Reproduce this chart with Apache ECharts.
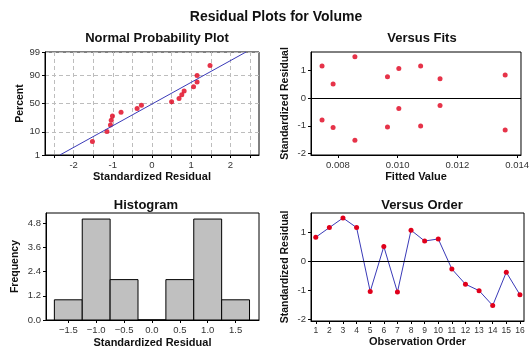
<!DOCTYPE html>
<html>
<head>
<meta charset="utf-8">
<script src="https://cdn.jsdelivr.net/npm/echarts@6/dist/echarts.min.js"></script>
<style>
  html, body { margin: 0; padding: 0; background: #fff; }
  #main { width: 532px; height: 350px; }
</style>
</head>
<body>
<div id="main"></div>
<script>
// standardized residuals by observation order
var obsOrder = [1, 2, 3, 4, 5, 6, 7, 8, 9, 10, 11, 12, 13, 14, 15, 16];
var residuals = [0.82, 1.15, 1.48, 1.15, -1.04, 0.50, -1.06, 1.06, 0.69, 0.76, -0.27, -0.79, -1.01, -1.52, -0.38, -1.15];
// fitted values for the same observations
var fitted = [0.01360, 0.00747, 0.00857, 0.01077, 0.00966, 0.00784, 0.00784, 0.01004, 0.01142, 0.00966, 0.01142, 0.00747, 0.01077, 0.00857, 0.01004, 0.01360];

// histogram bins
var binCenters = [-1.5, -1.0, -0.5, 0.0, 0.5, 1.0, 1.5];
var binCounts = [1, 5, 2, 0, 2, 5, 1];
var binWidth = 0.5;

// tick labels
var probTicks = [1, 10, 50, 90, 99];
var probXTicks = [-2, -1, 0, 1, 2];
var probXGrid = [-2.5, -2, -1.5, -1, -0.5, 0, 0.5, 1, 1.5, 2, 2.5];
var residTicks = [-2, -1, 0, 1];
var fitTicks = [0.008, 0.010, 0.012, 0.014];
var histXTicks = [-1.5, -1.0, -0.5, 0.0, 0.5, 1.0, 1.5];
var histYTicks = [0, 1.2, 2.4, 3.6, 4.8];

// inverse normal cdf (Acklam)
function qnorm(p) {
    var a = [-3.969683028665376e+01, 2.209460984245205e+02, -2.759285104469687e+02, 1.383577518672690e+02, -3.066479806614716e+01, 2.506628277459239e+00];
    var b = [-5.447609879822406e+01, 1.615858368580409e+02, -1.556989798598866e+02, 6.680131188771972e+01, -1.328068155288572e+01];
    var c = [-7.784894002430293e-03, -3.223964580411365e-01, -2.400758277161838e+00, -2.549671010115458e+00, 4.374664141464968e+00, 2.938163982698783e+00];
    var d = [7.784695709041462e-03, 3.224671290700398e-01, 2.445134137142996e+00, 3.754408661907416e+00];
    var plow = 0.02425, q, r;
    if (p < plow) {
        q = Math.sqrt(-2 * Math.log(p));
        return (((((c[0] * q + c[1]) * q + c[2]) * q + c[3]) * q + c[4]) * q + c[5]) / ((((d[0] * q + d[1]) * q + d[2]) * q + d[3]) * q + 1);
    }
    if (p > 1 - plow) {
        q = Math.sqrt(-2 * Math.log(1 - p));
        return -(((((c[0] * q + c[1]) * q + c[2]) * q + c[3]) * q + c[4]) * q + c[5]) / ((((d[0] * q + d[1]) * q + d[2]) * q + d[3]) * q + 1);
    }
    q = p - 0.5; r = q * q;
    return (((((a[0] * r + a[1]) * r + a[2]) * r + a[3]) * r + a[4]) * r + a[5]) * q / (((((b[0] * r + b[1]) * r + b[2]) * r + b[3]) * r + b[4]) * r + 1);
}

// normal probability points: sorted residuals vs median rank
var sorted = residuals.slice().sort(function (x, y) { return x - y; });
var n = sorted.length;
var probPoints = sorted.map(function (v, i) {
    return [v, qnorm((i + 1 - 0.3) / (n + 0.4))];
});
var mean = residuals.reduce(function (s, v) { return s + v; }, 0) / n;
var sd = Math.sqrt(residuals.reduce(function (s, v) { return s + (v - mean) * (v - mean); }, 0) / (n - 1));
var zLo = qnorm(0.01), zHi = qnorm(0.99);
var fitLine = [[mean + zLo * sd, zLo], [mean + zHi * sd, zHi]];
var probZ = probTicks.map(function (p) { return qnorm(p / 100); });

var RED = '#e0001b';
var BLUE = '#3a3ab8';
var labelStyle = { color: '#333', fontSize: 9.5, fontFamily: 'Liberation Sans', margin: 5 };
var nameStyle = { color: '#111', fontSize: 11, fontWeight: 'bold', fontFamily: 'Liberation Sans' };
var yNameStyle = { color: '#111', fontSize: 10.5, fontWeight: 'bold', fontFamily: 'Liberation Sans' };
var lineBlack = { show: true, onZero: false, lineStyle: { color: '#000', width: 1 } };
var tickBlack = { show: true, length: 3, lineStyle: { color: '#000' } };

function zeroLine() {
    return {
        silent: true, symbol: 'none', label: { show: false },
        lineStyle: { color: '#000', width: 1, type: 'solid' },
        data: [{ yAxis: 0 }]
    };
}

function panelTitle(text, x, y) {
    return {
        text: text, left: x, top: y, textAlign: 'center',
        textStyle: { fontSize: 13, fontWeight: 'bold', color: '#111', fontFamily: 'Liberation Sans' }
    };
}

var gridBase = { show: true, borderColor: '#000', borderWidth: 1, backgroundColor: '#fff' };

var option = {
    backgroundColor: '#fff',
    animation: false,
    title: [
        {
            text: 'Residual Plots for Volume', left: 271, top: 5, textAlign: 'center',
            textStyle: { fontSize: 14, fontWeight: 'bold', color: '#111', fontFamily: 'Liberation Sans' }
        },
        panelTitle('Normal Probability Plot', 152, 27),
        panelTitle('Versus Fits', 417, 27),
        panelTitle('Histogram', 141, 194),
        panelTitle('Versus Order', 417, 194)
    ],
    grid: [
        Object.assign({ left: 45, top: 52, width: 214, height: 103 }, gridBase),
        Object.assign({ left: 311, top: 52, width: 213, height: 103 }, gridBase),
        Object.assign({ left: 46, top: 213, width: 213, height: 107 }, gridBase),
        Object.assign({ left: 311, top: 213, width: 213, height: 108 }, gridBase)
    ],
    xAxis: [
        {
            gridIndex: 0, type: 'value', min: -2.73, max: 2.73,
            name: 'Standardized Residual', nameLocation: 'middle', nameGap: 16, nameTextStyle: nameStyle,
            axisLine: lineBlack,
            axisTick: { show: true, length: 3, lineStyle: { color: '#000' }, customValues: probXGrid },
            axisLabel: Object.assign({ customValues: probXTicks }, labelStyle),
            splitLine: { show: true, lineStyle: { color: '#bdbdbd', type: [4, 3], width: 1 } }
        },
        {
            gridIndex: 1, type: 'value', min: 0.0071, max: 0.01413,
            name: 'Fitted Value', nameLocation: 'middle', nameGap: 16, nameTextStyle: nameStyle,
            axisLine: lineBlack,
            axisTick: Object.assign({ customValues: fitTicks }, tickBlack),
            axisLabel: Object.assign({
                customValues: fitTicks,
                formatter: function (v) { return v.toFixed(3); }
            }, labelStyle),
            splitLine: { show: false }
        },
        {
            gridIndex: 2, type: 'value', min: -1.9, max: 1.92,
            name: 'Standardized Residual', nameLocation: 'middle', nameGap: 17, nameTextStyle: nameStyle,
            axisLine: lineBlack,
            axisTick: Object.assign({ customValues: histXTicks }, tickBlack),
            axisLabel: Object.assign({
                customValues: histXTicks,
                formatter: function (v) { return v.toFixed(1).replace('-', '\u2212'); }
            }, labelStyle),
            splitLine: { show: false }
        },
        {
            gridIndex: 3, type: 'value', min: 0.65, max: 16.3,
            name: 'Observation Order', nameLocation: 'middle', nameGap: 15, nameTextStyle: nameStyle,
            axisLine: lineBlack,
            axisTick: Object.assign({ customValues: obsOrder }, tickBlack),
            axisLabel: Object.assign({ customValues: obsOrder }, labelStyle, { fontSize: 8.5 }),
            splitLine: { show: false }
        }
    ],
    yAxis: [
        {
            gridIndex: 0, type: 'value', min: zLo, max: zHi,
            name: 'Percent', nameLocation: 'middle', nameGap: 19, nameTextStyle: yNameStyle,
            axisLine: lineBlack,
            axisTick: Object.assign({ customValues: probZ }, tickBlack),
            axisLabel: Object.assign({
                customValues: probZ,
                formatter: function (v) {
                    for (var i = 0; i < probZ.length; i++) {
                        if (Math.abs(probZ[i] - v) < 1e-6) return probTicks[i];
                    }
                    return '';
                }
            }, labelStyle),
            splitLine: { show: true, lineStyle: { color: '#bdbdbd', type: [4, 3], width: 1 } }
        },
        {
            gridIndex: 1, type: 'value', min: -2.05, max: 1.65,
            name: 'Standardized Residual', nameLocation: 'middle', nameGap: 20, nameTextStyle: yNameStyle,
            axisLine: lineBlack,
            axisTick: Object.assign({ customValues: residTicks }, tickBlack),
            axisLabel: Object.assign({ customValues: residTicks }, labelStyle),
            splitLine: { show: false }
        },
        {
            gridIndex: 2, type: 'value', min: 0, max: 5.3,
            name: 'Frequency', nameLocation: 'middle', nameGap: 25, nameTextStyle: yNameStyle,
            axisLine: lineBlack,
            axisTick: Object.assign({ customValues: histYTicks }, tickBlack),
            axisLabel: Object.assign({
                customValues: histYTicks,
                formatter: function (v) { return v.toFixed(1); }
            }, labelStyle),
            splitLine: { show: false }
        },
        {
            gridIndex: 3, type: 'value', min: -2.05, max: 1.65,
            name: 'Standardized Residual', nameLocation: 'middle', nameGap: 20, nameTextStyle: yNameStyle,
            axisLine: lineBlack,
            axisTick: Object.assign({ customValues: residTicks }, tickBlack),
            axisLabel: Object.assign({ customValues: residTicks }, labelStyle),
            splitLine: { show: false }
        }
    ],
    series: [
        {
            type: 'line', xAxisIndex: 0, yAxisIndex: 0, data: fitLine,
            symbol: 'none', lineStyle: { color: BLUE, width: 1 }, silent: true
        },
        {
            type: 'scatter', xAxisIndex: 0, yAxisIndex: 0, data: probPoints,
            symbolSize: 5, itemStyle: { color: RED }
        },
        {
            type: 'scatter', xAxisIndex: 1, yAxisIndex: 1,
            data: fitted.map(function (f, i) { return [f, residuals[i]]; }),
            symbolSize: 5, itemStyle: { color: RED },
            markLine: zeroLine()
        },
        {
            type: 'custom', xAxisIndex: 2, yAxisIndex: 2,
            data: binCenters.map(function (c, i) { return [c, binCounts[i]]; }),
            renderItem: function (params, api) {
                var c = api.value(0), h = api.value(1);
                var p0 = api.coord([c - binWidth / 2, h]);
                var p1 = api.coord([c + binWidth / 2, 0]);
                return {
                    type: 'rect',
                    shape: { x: p0[0], y: p0[1], width: p1[0] - p0[0], height: p1[1] - p0[1] },
                    style: { fill: '#c0c0c0', stroke: '#000', lineWidth: 1 }
                };
            }
        },
        {
            type: 'line', xAxisIndex: 3, yAxisIndex: 3,
            data: obsOrder.map(function (o, i) { return [o, residuals[i]]; }),
            symbol: 'circle', symbolSize: 5,
            lineStyle: { color: BLUE, width: 1 }, itemStyle: { color: RED },
            markLine: zeroLine()
        }
    ]
};

var chart = echarts.init(document.getElementById('main'));
chart.setOption(option);
</script>
</body>
</html>
